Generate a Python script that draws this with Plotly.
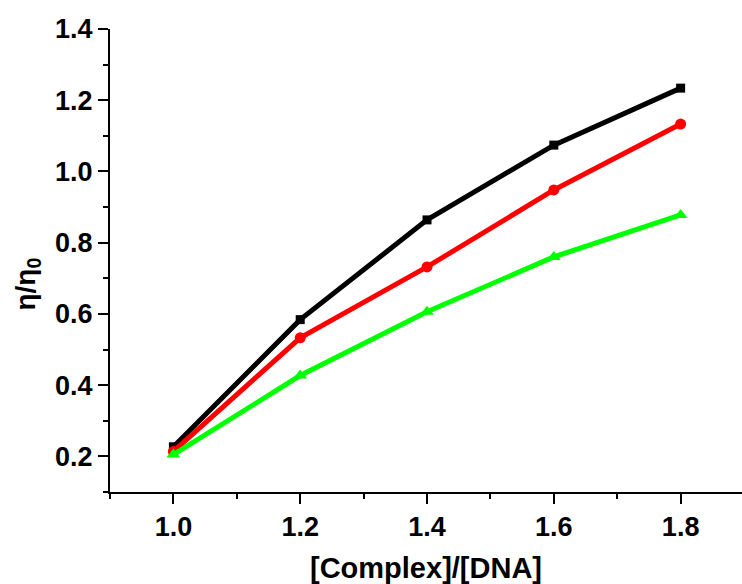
import plotly.graph_objects as go

x_vals = [1.0, 1.2, 1.4, 1.6, 1.8]
black_vals = [0.227, 0.584, 0.864, 1.074, 1.234]
red_vals = [0.214, 0.533, 0.732, 0.948, 1.133]
green_vals = [0.205, 0.427, 0.606, 0.760, 0.878]

series = [
    (black_vals, "black", "square", 9),
    (red_vals, "red", "circle", 11),
    (green_vals, "#00ff00", "triangle-up", 12),
]

fig = go.Figure()
for vals, color, sym, size in series:
    fig.add_trace(go.Scatter(
        x=x_vals, y=vals, mode="lines+markers",
        line=dict(color=color, width=5),
        marker=dict(color=color, symbol=sym, size=size),
        showlegend=False,
    ))

FAM = "Liberation Sans, Arial, sans-serif"
font = dict(family=FAM, size=28, color="black")
tfont = dict(family=FAM, size=27, color="black", weight="bold")

fig.update_layout(
    width=742, height=584,
    margin=dict(l=110, r=0, t=29, b=92),
    paper_bgcolor="white", plot_bgcolor="white",
    font=font,
)
fig.update_xaxes(
    range=[0.9, 1.8968], showgrid=False, zeroline=False,
    showline=True, linecolor="black", linewidth=2,
    ticks="outside", ticklen=10, tickwidth=2, tickcolor="black",
    tick0=1.0, dtick=0.2, tickformat=".1f",
    tickfont=tfont,
    minor=dict(ticks="outside", ticklen=5, tickwidth=2, tickcolor="black", dtick=0.1, tick0=0.9),
    title=dict(text="<b>[Complex]/[DNA]</b>", font=dict(family=FAM, size=29, color="black"), standoff=21),
)
fig.update_yaxes(
    range=[0.1, 1.4], showgrid=False, zeroline=False,
    showline=True, linecolor="black", linewidth=2,
    ticks="outside", ticklen=10, tickwidth=2, tickcolor="black",
    tick0=0.2, dtick=0.2, tickformat=".1f",
    tickfont=tfont,
    minor=dict(ticks="outside", ticklen=5, tickwidth=2, tickcolor="black", dtick=0.1, tick0=0.1),
)
fig.add_annotation(
    text="<b>η/η<sub>0</sub></b>", textangle=-90,
    xref="paper", yref="paper", x=(27.5 - 110) / 634, y=(492.4 - 284) / 463.4,
    xanchor="center", yanchor="middle", showarrow=False,
    font=dict(family=FAM, size=28, color="black"),
)

fig.write_html("out.html")
